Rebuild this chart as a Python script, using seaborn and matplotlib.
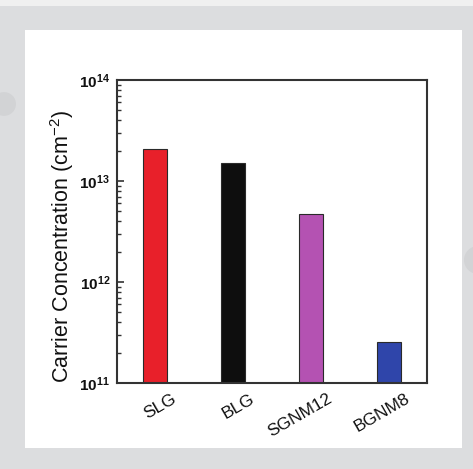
import matplotlib
matplotlib.use("Agg")
import matplotlib.pyplot as plt
import matplotlib.patches as mpatches
import matplotlib.transforms as mtransforms
import seaborn as sns
import pandas as pd
from matplotlib.ticker import LogLocator, FixedLocator

categories = ["SLG", "BLG", "SGNM12", "BGNM8"]
values = [2.07e13, 1.5e13, 4.7e12, 2.55e11]
colors = ["#e8202a", "#0e0e0e", "#b452b2", "#2f45aa"]
ytick_vals = [1e11, 1e12, 1e13, 1e14]
ytick_labels = [r"$\mathbf{10^{11}}$", r"$\mathbf{10^{12}}$", r"$\mathbf{10^{13}}$", r"$\mathbf{10^{14}}$"]

sns.set_style("white")
plt.rcParams["font.family"] = ["Liberation Sans", "DejaVu Sans"]
plt.rcParams["mathtext.fontset"] = "custom"
plt.rcParams["mathtext.rm"] = "Liberation Sans"
plt.rcParams["mathtext.bf"] = "Liberation Sans:bold"
plt.rcParams["text.color"] = "#111111"
plt.rcParams["axes.labelcolor"] = "#111111"
plt.rcParams["xtick.color"] = "#111111"
plt.rcParams["ytick.color"] = "#111111"

W, H = 473, 469
fig = plt.figure(figsize=(W / 100, H / 100), dpi=100, facecolor="#dcdddf")

# decorative background
fig.patches.append(mpatches.Rectangle((0, 1 - 6 / H), 1, 6 / H, transform=fig.transFigure,
                                      facecolor="#f0f0f0", edgecolor="none", zorder=-3))
fig.patches.append(mpatches.Circle((4 / W, 1 - 104 / H), 12 / W, transform=fig.transFigure,
                                   facecolor="#d2d3d5", edgecolor="none", zorder=-3))
fig.patches.append(mpatches.Ellipse((478 / W, 1 - 260 / H), 28 / W, 28 / H, transform=fig.transFigure,
                                    facecolor="#d2d3d5", edgecolor="none", zorder=-3))
fig.patches.append(mpatches.Rectangle((25 / W, 1 - 448 / H), (462 - 25) / W, (448 - 30) / H,
                                      transform=fig.transFigure, facecolor="white",
                                      edgecolor="none", zorder=-2))

ax = fig.add_axes([117 / W, 1 - 383 / H, (427 - 117) / W, (383 - 80) / H])
ax.set_zorder(5)
ax.set_facecolor("white")
ax.set_yscale("log")

df = pd.DataFrame({"cat": categories, "val": values})
sns.barplot(data=df, x="cat", y="val", hue="cat", palette=colors, legend=False,
            saturation=1, width=0.31, edgecolor="#2a2a2a", linewidth=0.8, ax=ax, zorder=2)

ax.set_xlim(-0.487, 3.487)
ax.set_ylim(1e11, 1e14)
ax.yaxis.set_major_locator(FixedLocator(ytick_vals))
ax.set_yticklabels(ytick_labels, fontsize=11)
ax.yaxis.set_minor_locator(LogLocator(base=10, subs=range(2, 10)))
ax.tick_params(axis="y", which="major", direction="in", length=5, width=1.2, left=True, right=False, color="#333333", pad=5)
ax.tick_params(axis="y", which="minor", direction="in", length=3, width=1.0, left=True, right=False, color="#333333")
ax.tick_params(axis="x", which="both", bottom=False, top=False, pad=7)
ax.set_xticks(range(len(categories)))
ax.set_xticklabels(categories, rotation=30, fontsize=12.5, ha="right", va="center",
                   rotation_mode="anchor")
offset = mtransforms.ScaledTranslation(20 / 100, 0, fig.dpi_scale_trans)
for lbl in ax.get_xticklabels():
    lbl.set_transform(lbl.get_transform() + offset)
ax.set_xlabel("")
ax.set_ylabel("Carrier Concentration (cm$^{-2}$)", fontsize=15.5)
ax.yaxis.set_label_coords(-0.132, 0.45)

for s in ax.spines.values():
    s.set_visible(True)
    s.set_color("#333333")
    s.set_linewidth(1.5)

fig.savefig("out.png", dpi=100, facecolor=fig.get_facecolor())
